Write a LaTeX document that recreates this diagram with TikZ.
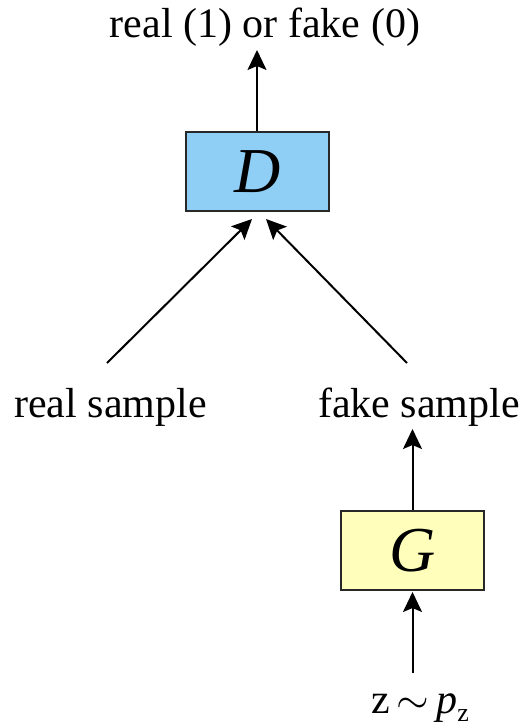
\documentclass[tikz,border=0pt]{standalone}
\usepackage{fix-cm}
\usepackage{fontspec}
\setmainfont{Liberation Serif}
\usetikzlibrary{arrows.meta}
\definecolor{dblue}{RGB}{143,206,245}
\definecolor{gyellow}{RGB}{255,255,187}
\definecolor{boxedge}{RGB}{40,40,40}
\tikzset{
  lbl/.style={inner sep=0pt, anchor=base, font=\fontsize{42}{48}\selectfont},
  boxnode/.style={draw=boxedge, line width=1.5pt, minimum width=143pt, minimum height=79pt, inner sep=0pt, text depth=0pt, font=\fontsize{64}{70}\selectfont},
  arr/.style={line width=2pt, -{Stealth[length=20pt, width=19pt, inset=4pt]}}
}
\begin{document}
\begin{tikzpicture}[x=1pt, y=-1pt]
\useasboundingbox (0,0) rectangle (526,728);
% labels
\node[lbl] (out) at (265,37) {real (1) or fake (0)};
\node[lbl] (real) at (110.5,417) {real sample};
\node[lbl] (fake) at (419,417) {fake sample};
\node[lbl] (zz) at (420,713) {z\,$\sim$\,\textit{p}\raisebox{-8pt}{\fontsize{26}{30}\selectfont z}};
% boxes
\node[boxnode, fill=dblue] (D) at (257.5,171.5) {\textit{D}};
\node[boxnode, fill=gyellow] (G) at (412.5,550.5) {\textit{G}};
% free ends
\coordinate (rs) at (107,363);
\coordinate (fs) at (407,363);
\coordinate (dl) at (252,219);
\coordinate (dr) at (266,219);
\coordinate (outin) at (257,50);
\coordinate (fakein) at (412.5,429);
\coordinate (zin) at (412.5,673);
\coordinate (gin) at (412.5,592);
% connectors
\draw[arr] (D.north -| outin) -- (outin);
\draw[arr] (rs) -- (dl);
\draw[arr] (fs) -- (dr);
\draw[arr] (G.north) -- (fakein);
\draw[arr] (zin) -- (gin);
\end{tikzpicture}
\end{document}
